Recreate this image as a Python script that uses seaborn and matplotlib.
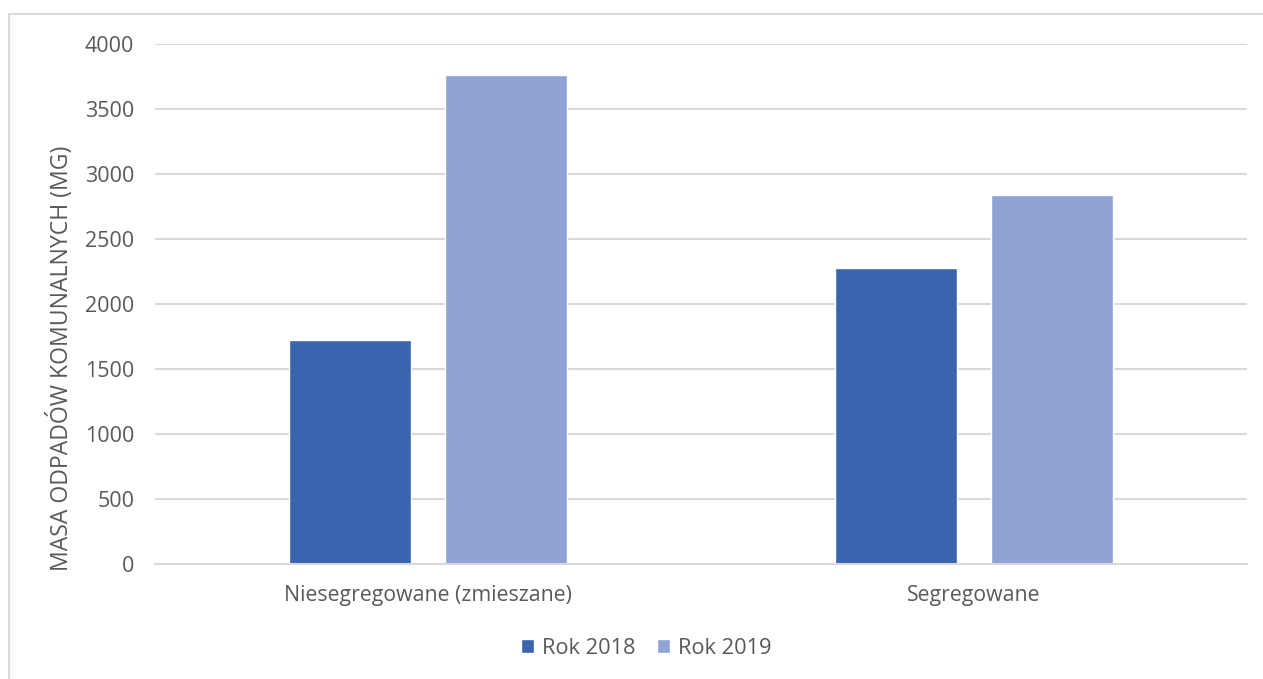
import pandas as pd
import seaborn as sns
import matplotlib
import matplotlib.pyplot as plt
from matplotlib.patches import Rectangle

matplotlib.use('Agg')

# Data
categories = ['Niesegregowane (zmieszane)', 'Segregowane']
years = ['Rok 2018', 'Rok 2019']
values_2018 = [1724, 2279]
values_2019 = [3765, 2841]
y_ticks = [0, 500, 1000, 1500, 2000, 2500, 3000, 3500, 4000]

colors = ['#3A64AD', '#8FA4D4']
text_color = '#595959'
grid_color = '#D9D9D9'

df = pd.DataFrame({
    'category': categories * 2,
    'year': [years[0]] * len(categories) + [years[1]] * len(categories),
    'value': values_2018 + values_2019,
})

sns.set_theme(style='white')
plt.rcParams['font.family'] = ['Open Sans', 'DejaVu Sans']

fig = plt.figure(figsize=(12.63, 6.79), dpi=100)
ax = fig.add_axes([155 / 1263, 115 / 679, 1092 / 1263, 520 / 679])

sns.barplot(data=df, x='category', y='value', hue='year', palette=colors,
            width=0.571, gap=0.218, saturation=1, ax=ax, legend=True)

ax.set_ylim(0, 4000)
ax.set_xlim(-0.5, 1.5)
ax.set_yticks(y_ticks)
ax.set_yticklabels([str(t) for t in y_ticks], fontsize=15.5, color=text_color)
ax.tick_params(axis='y', length=0, pad=15)
ax.tick_params(axis='x', length=0, pad=15)
for lab in ax.get_xticklabels():
    lab.set_fontsize(15.3)
    lab.set_color(text_color)

ax.yaxis.grid(True, color=grid_color, linewidth=1.5)
ax.set_axisbelow(True)
for side in ['top', 'right', 'left']:
    ax.spines[side].set_visible(False)
ax.spines['bottom'].set_color(grid_color)
ax.spines['bottom'].set_linewidth(1.5)

ax.set_xlabel('')
ax.set_ylabel('MASA ODPADÓW KOMUNALNYCH (MG)', fontsize=16.6, color=text_color)
ax.yaxis.set_label_coords(-0.074, 0.396)

ax.get_legend().remove()
handles, labels = ax.get_legend_handles_labels()
fig.legend(handles, labels, loc='center', bbox_to_anchor=(646 / 1263, 31 / 679), ncol=2,
           frameon=False, handlelength=0.6, handleheight=0.6, handletextpad=0.35,
           columnspacing=1.0, prop={'size': 15.7}, labelcolor=text_color)

# outer chart frame
fig.patches.append(Rectangle((9 / 1263, -0.05), 1.0, 1.05 - 14 / 679,
                             transform=fig.transFigure, fill=False,
                             edgecolor=grid_color, linewidth=1.5))

fig.savefig('out.png', dpi=100)
